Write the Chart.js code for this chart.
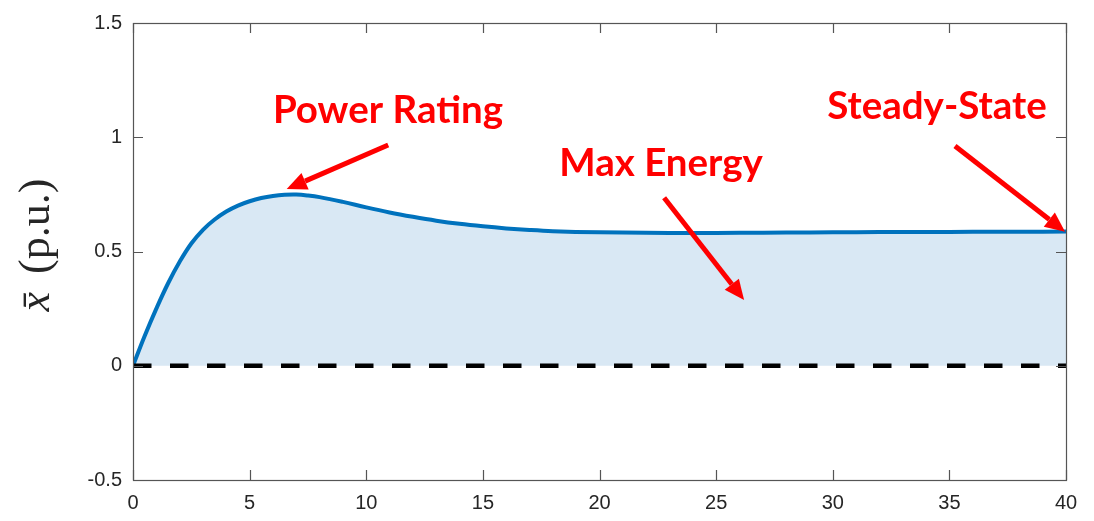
<!DOCTYPE html>
<html>
<head>
<meta charset="utf-8">
<script src="https://cdn.jsdelivr.net/npm/chart.js@4/dist/chart.umd.min.js"></script>
<style>
  html, body { margin: 0; padding: 0; background: #fff; }
  #wrap { width: 1094px; height: 521px; }
</style>
</head>
<body>
<div id="wrap"><canvas id="myChart"></canvas></div>
<script>
// time axis (s) and per-unit response
t_vals = [0, 0.5, 1, 1.5, 2, 2.5, 3, 3.5, 4, 4.5, 5, 5.5, 6, 6.5, 7, 7.5, 8, 9, 10, 11, 12, 13, 14, 15, 16, 17, 18, 20, 22, 24, 26, 28, 30, 32, 34, 36, 38, 40]
x_vals = [0, 0.13, 0.25, 0.36, 0.455, 0.535, 0.595, 0.64, 0.675, 0.701, 0.72, 0.734, 0.743, 0.748, 0.749, 0.745, 0.738, 0.717, 0.693, 0.671, 0.652, 0.635, 0.621, 0.61, 0.601, 0.594, 0.589, 0.584, 0.582, 0.581, 0.582, 0.583, 0.584, 0.585, 0.585, 0.586, 0.586, 0.587]

// zero reference line
zero_t = [0, 40]
zero_x = [0, 0]

x_ticks = [0, 5, 10, 15, 20, 25, 30, 35, 40]
y_ticks = [-0.5, 0, 0.5, 1, 1.5]

// callouts: label text, label position, arrow tail and tip (data units)
notes = [
  { text: 'Power Rating', at: [10.93, 1.064], from: [10.94, 0.966], to: [6.59, 0.773] },
  { text: 'Max Energy',   at: [22.64, 0.830], from: [22.77, 0.735], to: [26.2, 0.288] },
  { text: 'Steady-State', at: [34.47, 1.078], from: [35.24, 0.962], to: [39.96, 0.586] }
]

curve = []
for (i = 0; i < t_vals.length; i++) {
  curve.push({ x: t_vals[i], y: x_vals[i] })
}
zero = []
for (i = 0; i < zero_t.length; i++) {
  zero.push({ x: zero_t[i], y: zero_x[i] })
}

const boxPlugin = {
  id: 'box',
  afterDatasetsDraw(chart) {
    const ctx = chart.ctx
    const a = chart.chartArea
    const sx = chart.scales.x, sy = chart.scales.y
    ctx.save()
    ctx.strokeStyle = '#555'
    ctx.lineWidth = 1.2
    ctx.beginPath()
    x_ticks.forEach(v => {
      const px = Math.round(sx.getPixelForValue(v)) + 0.5
      ctx.moveTo(px, a.bottom); ctx.lineTo(px, a.bottom - 10)
      ctx.moveTo(px, a.top); ctx.lineTo(px, a.top + 10)
    })
    y_ticks.forEach(v => {
      const py = Math.round(sy.getPixelForValue(v)) + 0.5
      ctx.moveTo(a.left, py); ctx.lineTo(a.left + 10, py)
      ctx.moveTo(a.right, py); ctx.lineTo(a.right - 10, py)
    })
    ctx.stroke()
    ctx.strokeRect(a.left + 0.5, a.top + 0.5, a.right - a.left, a.bottom - a.top)
    ctx.restore()
  }
}

const notesPlugin = {
  id: 'notes',
  afterDraw(chart) {
    const ctx = chart.ctx
    const sx = chart.scales.x, sy = chart.scales.y
    ctx.save()
    ctx.fillStyle = '#ff0000'
    ctx.strokeStyle = '#ff0000'
    ctx.font = 'bold 38.5px Lato'
    ctx.textAlign = 'center'
    ctx.textBaseline = 'alphabetic'
    notes.forEach(n => {
      ctx.fillText(n.text, sx.getPixelForValue(n.at[0]), sy.getPixelForValue(n.at[1]))
      const x0 = sx.getPixelForValue(n.from[0]), y0 = sy.getPixelForValue(n.from[1])
      const x1 = sx.getPixelForValue(n.to[0]), y1 = sy.getPixelForValue(n.to[1])
      const ang = Math.atan2(y1 - y0, x1 - x0)
      const head = 20, half = 9
      const bx = x1 - head * Math.cos(ang), by = y1 - head * Math.sin(ang)
      ctx.lineWidth = 5
      ctx.beginPath()
      ctx.moveTo(x0, y0)
      ctx.lineTo(bx, by)
      ctx.stroke()
      ctx.beginPath()
      ctx.moveTo(x1, y1)
      ctx.lineTo(bx + half * Math.sin(ang), by - half * Math.cos(ang))
      ctx.lineTo(bx - half * Math.sin(ang), by + half * Math.cos(ang))
      ctx.closePath()
      ctx.fill()
    })
    ctx.restore()
  }
}

// y label: italic x-bar then upright (p.u.)
const yTitlePlugin = {
  id: 'ytitle',
  afterDraw(chart) {
    const ctx = chart.ctx
    ctx.save()
    ctx.translate(49, 245)
    ctx.rotate(-Math.PI / 2)
    ctx.fillStyle = '#262626'
    ctx.textBaseline = 'alphabetic'
    ctx.textAlign = 'left'
    const f1 = 'italic 44px "Liberation Serif"', f2 = '44px "Liberation Serif"'
    const p2 = '(p.u.)'
    const gap = 18
    ctx.font = f1
    const w1 = ctx.measureText('x').width
    ctx.font = f2
    const w2 = ctx.measureText(p2).width
    const start = -(w1 + gap + w2) / 2
    ctx.font = f1
    ctx.fillText('x\u0304', start, 0)
    ctx.font = f2
    ctx.fillText(p2, start + w1 + gap, 0)
    ctx.restore()
  }
}

const ctx = document.getElementById('myChart').getContext('2d')
const myChart = new Chart(ctx, {
  type: 'line',
  data: {
    datasets: [{
      label: 'zero',
      data: zero,
      borderColor: '#000',
      borderWidth: 4.5,
      borderDash: [18.5, 18.5],
      pointRadius: 0,
      fill: false,
      order: 0
    }, {
      label: 'x bar',
      data: curve,
      borderColor: '#0072bd',
      borderWidth: 4,
      backgroundColor: '#d9e8f4',
      fill: 'origin',
      pointRadius: 0,
      tension: 0.4,
      order: 1
    }]
  },
  options: {
    responsive: true,
    maintainAspectRatio: false,
    animation: false,
    layout: { padding: { left: 0, right: 28, top: 15, bottom: 0 } },
    plugins: {
      legend: { display: false },
      tooltip: { enabled: false }
    },
    scales: {
      x: {
        type: 'linear',
        min: 0,
        max: 40,
        afterFit: s => { s.height = 41 },
        afterBuildTicks: s => { s.ticks = x_ticks.map(v => ({ value: v })) },
        grid: { display: false, drawTicks: false },
        border: { display: false },
        ticks: {
          padding: 11,
          color: '#262626',
          font: { family: '"Liberation Sans"', size: 20 },
          maxRotation: 0,
          callback: v => String(v)
        }
      },
      y: {
        type: 'linear',
        min: -0.5,
        max: 1.5,
        afterFit: s => { s.width = 133 },
        afterBuildTicks: s => { s.ticks = y_ticks.map(v => ({ value: v })) },
        grid: { display: false, drawTicks: false },
        border: { display: false },
        ticks: {
          padding: 11,
          color: '#262626',
          font: { family: '"Liberation Sans"', size: 20 },
          callback: v => String(v)
        }
      }
    }
  },
  plugins: [boxPlugin, yTitlePlugin, notesPlugin]
})
</script>
</body>
</html>
